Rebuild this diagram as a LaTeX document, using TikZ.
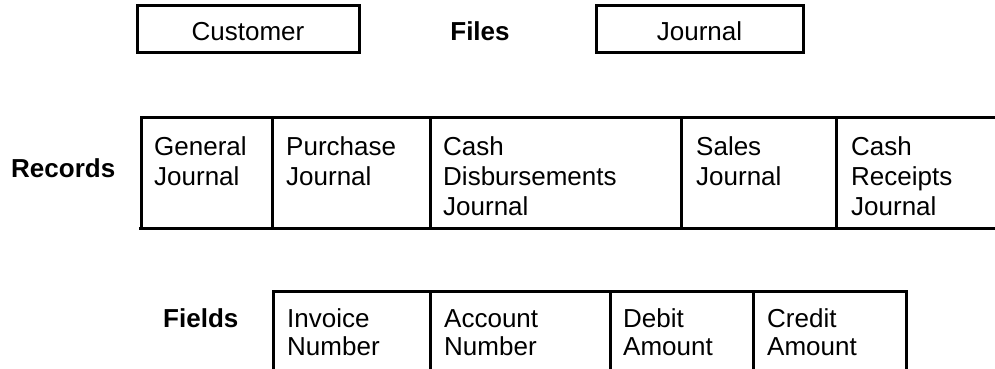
\documentclass[tikz,border=0pt]{standalone}
\usepackage{fontspec}
\setmainfont{Liberation Sans}
\begin{document}
\begin{tikzpicture}[x=1pt,y=-1pt,
  every node/.style={font=\fontsize{26}{30}\selectfont, inner sep=0pt},
  lbl/.style={font=\fontsize{26}{30}\selectfont\bfseries, anchor=base west},
  celltext/.style={anchor=base west, align=left},
  fieldtext/.style={anchor=base west, align=left, font=\fontsize{26}{28.5}\selectfont},
  rule/.style={line width=3pt, line join=miter},
  topbox/.style={draw, line width=3pt, minimum height=47pt, text height=23pt, text depth=0pt}]
\useasboundingbox (0,0) rectangle (995,368);

% Files row
\node[topbox, minimum width=222pt] (cust) at (248,28.5) {Customer};
\node[lbl, anchor=base] (files) at (480,40) {Files};
\node[topbox, minimum width=207pt] (jour) at (699.5,28.5) {Journal};

% Records row (anchor is the baseline of the last line)
\node[lbl] (records) at (11,177) {Records};
\draw[rule] (1000,117) -- (141,117) -- (141,228);
\draw[rule] (139,228) -- (1000,228);
\foreach \x in {272,430,681,836} \draw[rule] (\x,117) -- (\x,228);
\node[celltext] (gj) at (154,185) {General\\Journal};
\node[celltext] (pj) at (286,185) {Purchase\\Journal};
\node[celltext] (cdj) at (443,215) {Cash\\Disbursements\\Journal};
\node[celltext] (sj) at (696,185) {Sales\\Journal};
\node[celltext] (crj) at (851,215) {Cash\\Receipts\\Journal};

% Fields row
\node[lbl] (fields) at (163,327) {Fields};
\draw[rule] (273,372) -- (273,291) -- (906,291) -- (906,372);
\foreach \x in {430,610,753} \draw[rule] (\x,291) -- (\x,372);
\node[fieldtext] (inv) at (287,355.5) {Invoice\\Number};
\node[fieldtext] (acc) at (444,355.5) {Account\\Number};
\node[fieldtext] (deb) at (623,355.5) {Debit\\Amount};
\node[fieldtext] (cred) at (767,355.5) {Credit\\Amount};
\end{tikzpicture}
\end{document}
